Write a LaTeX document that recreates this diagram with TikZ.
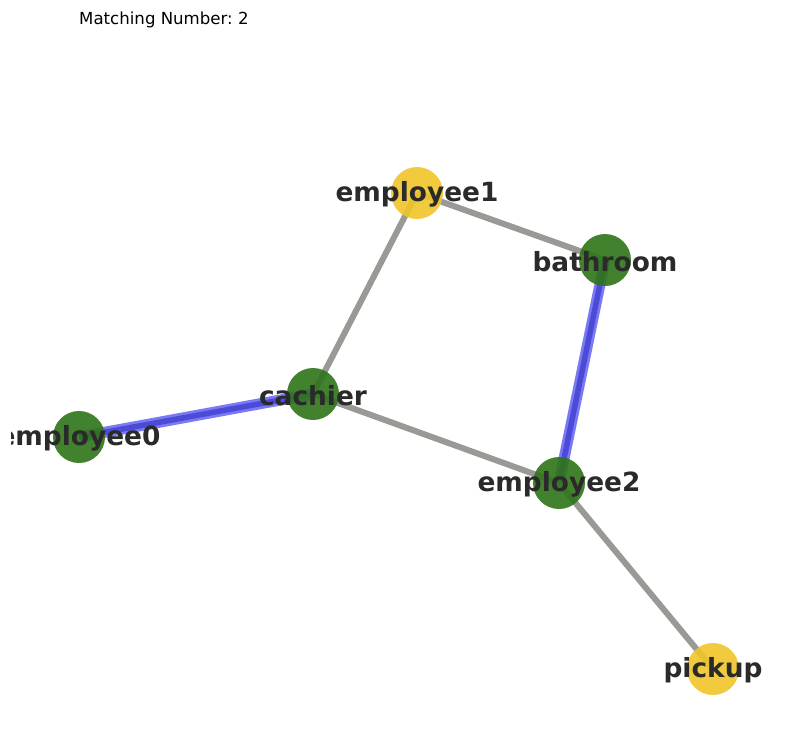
\documentclass[tikz,border=0pt]{standalone}
\usepackage{fontspec}
\setmainfont{DejaVu Sans}
\frenchspacing
\usetikzlibrary{backgrounds}
\definecolor{nodegreen}{HTML}{2E7518}
\definecolor{nodeyellow}{HTML}{F0C52A}
\definecolor{edgegray}{HTML}{999995}
\definecolor{matchouter}{HTML}{7A7AF7}
\definecolor{matchinner}{HTML}{4B4BD6}
\definecolor{labeltext}{HTML}{2A2A2A}
\tikzset{
  vertex/.style={circle, minimum size=52pt, inner sep=0pt, draw=none, fill opacity=0.9},
  greennode/.style={vertex, fill=nodegreen},
  yellownode/.style={vertex, fill=nodeyellow},
  lbl/.style={inner sep=0pt, text=labeltext, font=\fontsize{26.4}{30}\selectfont\bfseries},
  plainedge/.style={draw=edgegray, line width=6pt},
  matchedge/.style={draw=matchouter, line width=11pt},
  matchcore/.style={draw=matchinner, line width=5.5pt},
}
\begin{document}
\begin{tikzpicture}[x=1pt,y=-1pt]
\useasboundingbox (0,0) rectangle (792,731);
\node[anchor=west, inner sep=0pt, font=\fontsize{16.6}{20}\selectfont] (title) at (79,20) {Matching Number: 2};

\node[yellownode] (employee1) at (417,193) {};
\node[greennode] (bathroom) at (605,260) {};
\node[greennode] (cachier) at (313,394) {};
\node[greennode] (employee0) at (79,437) {};
\node[greennode] (employee2) at (559,483) {};
\node[yellownode] (pickup) at (713,669) {};

\begin{scope}[on background layer]
\fill[white] (0,0) rectangle (792,731);
\draw[plainedge] (employee1.center) -- (bathroom.center);
\draw[plainedge] (employee1.center) -- (cachier.center);
\draw[plainedge] (cachier.center) -- (employee2.center);
\draw[plainedge] (employee2.center) -- (pickup.center);
\draw[matchedge] (cachier.center) -- (employee0.center);
\draw[matchcore] (cachier.center) -- (employee0.center);
\draw[matchedge] (bathroom.center) -- (employee2.center);
\draw[matchcore] (bathroom.center) -- (employee2.center);
\end{scope}

\node[lbl] (employee1-label) at ([yshift=-1.5pt]employee1.center) {employee1};
\node[lbl] (bathroom-label) at ([yshift=-1.5pt]bathroom.center) {bathroom};
\node[lbl] (cachier-label) at ([yshift=-1.5pt]cachier.center) {cachier};
\node[lbl] (employee2-label) at ([yshift=-1.5pt]employee2.center) {employee2};
\node[lbl] (pickup-label) at ([yshift=-1.5pt]pickup.center) {pickup};
\begin{scope}
\clip (11,0) rectangle (792,731);
\node[lbl] (employee0-label) at ([yshift=-1.5pt]employee0.center) {employee0};
\end{scope}
\end{tikzpicture}
\end{document}
